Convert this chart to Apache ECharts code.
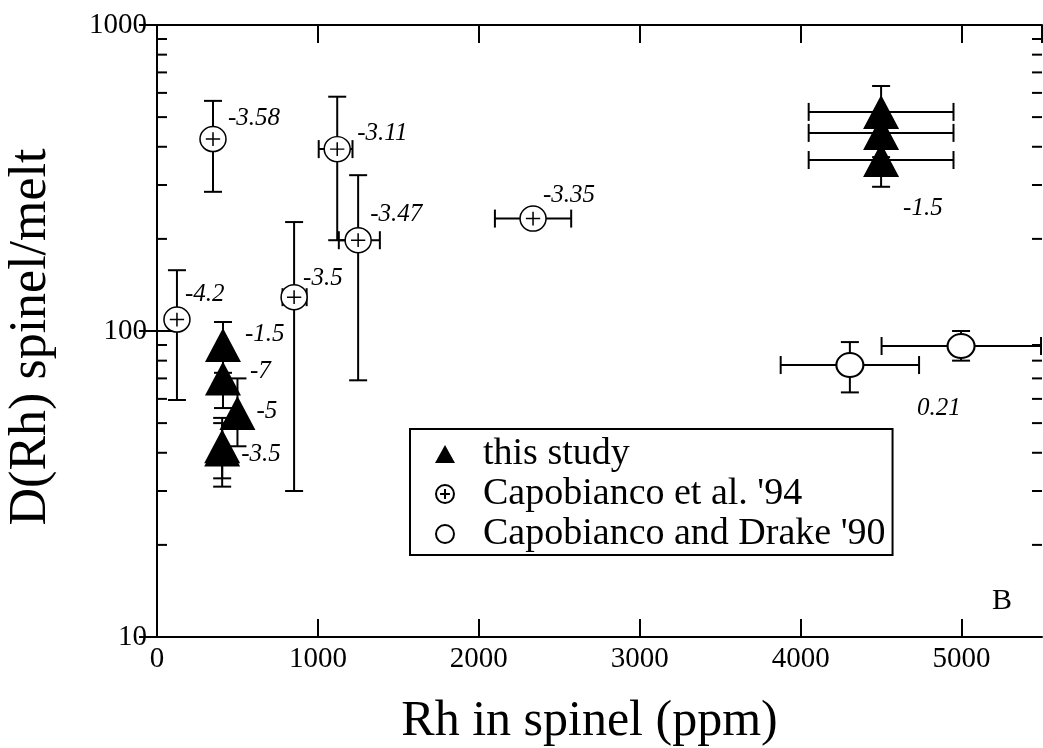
<!DOCTYPE html>
<html>
<head>
<meta charset="utf-8">
<script src="https://cdn.jsdelivr.net/npm/echarts@6/dist/echarts.min.js"></script>
<style>
  html, body { margin: 0; padding: 0; background: #fff; }
  #chart { width: 1043px; height: 748px; }
</style>
</head>
<body>
<div id="chart"></div>
<script>
// ---- data: Rh in spinel (ppm) vs D(Rh) spinel/melt ----
// this study
const studyX    = [410, 410, 500, 405, 405, 4500, 4500, 4500];
const studyD    = [90, 70, 54, 42, 41, 520, 444, 362];
const studyDLo  = [73, 56, 42, 31, 33, 410, 370, 296];
const studyDHi  = [107, 84, 70, 52, 50, 632, 520, 430];
const studyXLo  = [null, null, null, null, null, 4050, 4050, 4050];
const studyXHi  = [null, null, null, null, null, 4950, 4950, 4950];
const studyNote = ['-1.5', '-7', '-5', '-3.5', '', '', '', '-1.5'];

// Capobianco et al. '94
const c94X    = [124, 348, 1120, 1250, 852, 2337];
const c94D    = [109, 424, 393, 198, 129, 233];
const c94DLo  = [59.5, 285, 198, 69, 30, null];
const c94DHi  = [158, 565, 583, 323, 227, null];
const c94XLo  = [null, null, 1005, 1130, 780, 2100];
const c94XHi  = [null, null, 1215, 1385, 930, 2574];
const c94Note = ['-4.2', '-3.58', '-3.11', '-3.47', '-3.5', '-3.35'];

// Capobianco and Drake '90
const cd90X    = [4306, 4997];
const cd90D    = [77.4, 89.3];
const cd90DLo  = [63, 80];
const cd90DHi  = [92, 100];
const cd90XLo  = [3876, 4503];
const cd90XHi  = [4736, 5494];
const cd90Note = ['', '0.21'];

// axes
const xMin = 0, xMax = 5500, xStep = 1000;
const yMin = 10, yMax = 1000;
const yMinorTicks = [20, 30, 40, 50, 60, 70, 80, 90, 200, 300, 400, 500, 600, 700, 800, 900];

const seriesNames = ['this study', "Capobianco et al. '94", "Capobianco and Drake '90"];

// ---- styling ----
const SERIF = "'Liberation Serif', 'Times New Roman', serif";
const studyNoteOffset = [[22, -11], [27, -7], [19, -1], [19, 8], [0, 0], [0, 0], [0, 0], [22, 48]];
const c94NoteOffset   = [[8, -25], [15, -21], [20, -16], [12, -26], [9, -19], [10, -23]];
const cd90NoteOffset  = [[0, 0], [-44, 62]];
const plusCircle = 'path://M0,-10A10,10,0,1,1,0,10A10,10,0,1,1,0,-10ZM-5.5,0L5.5,0M0,-5.5L0,5.5';

function pointData(xs, ys, notes, offsets) {
  return xs.map((x, i) => ({
    value: [x, ys[i]],
    label: notes[i] ? {
      show: true,
      formatter: notes[i],
      position: 'inside',
      align: 'left',
      verticalAlign: 'middle',
      offset: offsets[i],
      color: '#000',
      fontFamily: SERIF,
      fontStyle: 'italic',
      fontSize: 25
    } : { show: false }
  }));
}

function errorSeries(xs, ys, xlo, xhi, ylo, yhi) {
  const cap = 9;
  return {
    type: 'custom',
    coordinateSystem: 'cartesian2d',
    silent: true,
    clip: true,
    z: 2,
    data: xs.map((x, i) => [x, ys[i]]),
    encode: { x: 0, y: 1 },
    renderItem: function (params, api) {
      const i = params.dataIndex;
      const x = api.value(0), y = api.value(1);
      const c = api.coord([x, y]);
      const st = { stroke: '#000', lineWidth: 2 };
      const kids = [];
      if (ylo[i] != null && yhi[i] != null) {
        const a = api.coord([x, ylo[i]]), b = api.coord([x, yhi[i]]);
        kids.push({ type: 'line', shape: { x1: c[0], y1: a[1], x2: c[0], y2: b[1] }, style: st });
        kids.push({ type: 'line', shape: { x1: c[0] - cap, y1: a[1], x2: c[0] + cap, y2: a[1] }, style: st });
        kids.push({ type: 'line', shape: { x1: c[0] - cap, y1: b[1], x2: c[0] + cap, y2: b[1] }, style: st });
      }
      if (xlo[i] != null && xhi[i] != null) {
        const a = api.coord([xlo[i], y]), b = api.coord([xhi[i], y]);
        kids.push({ type: 'line', shape: { x1: a[0], y1: c[1], x2: b[0], y2: c[1] }, style: st });
        kids.push({ type: 'line', shape: { x1: a[0], y1: c[1] - cap, x2: a[0], y2: c[1] + cap }, style: st });
        kids.push({ type: 'line', shape: { x1: b[0], y1: c[1] - cap, x2: b[0], y2: c[1] + cap }, style: st });
      }
      return { type: 'group', children: kids };
    }
  };
}

// log-spaced minor ticks on both vertical frame sides
const minorTickSeries = {
  type: 'custom',
  coordinateSystem: 'cartesian2d',
  silent: true,
  z: 1,
  data: yMinorTicks.map(v => [xMin, v]),
  encode: { x: 0, y: 1 },
  renderItem: function (params, api) {
    const cs = params.coordSys;
    const p = api.coord([xMin, api.value(1)]);
    const st = { stroke: '#000', lineWidth: 2 };
    return {
      type: 'group',
      children: [
        { type: 'line', shape: { x1: cs.x, y1: p[1], x2: cs.x + 10, y2: p[1] }, style: st },
        { type: 'line', shape: { x1: cs.x + cs.width, y1: p[1], x2: cs.x + cs.width - 10, y2: p[1] }, style: st }
      ]
    };
  }
};

const axisLineStyle = { show: true, lineStyle: { color: '#000', width: 2 } };
const tickStyle = { show: true, inside: true, length: 18, lineStyle: { color: '#000', width: 2 } };

const option = {
  animation: false,
  backgroundColor: '#fff',
  grid: { left: 157, right: 1, top: 25, bottom: 111, containLabel: false, outerBoundsMode: 'none' },
  xAxis: [
    {
      type: 'value', position: 'bottom', min: xMin, max: xMax, interval: xStep,
      axisLine: axisLineStyle, axisTick: tickStyle, splitLine: { show: false },
      axisLabel: { color: '#000', fontFamily: SERIF, fontSize: 29, margin: 8, showMaxLabel: false,
                   formatter: v => (v % xStep === 0 ? String(v) : '') },
      name: 'Rh in spinel (ppm)', nameLocation: 'middle', nameGap: 60,
      nameTextStyle: { color: '#000', fontFamily: SERIF, fontSize: 50, padding: [0, 20, 0, 0] }
    },
    {
      type: 'value', position: 'top', min: xMin, max: xMax, interval: xStep,
      axisLine: axisLineStyle, axisTick: tickStyle, splitLine: { show: false },
      axisLabel: { show: false }
    }
  ],
  yAxis: [
    {
      type: 'log', logBase: 10, position: 'left', min: yMin, max: yMax,
      axisLine: axisLineStyle, axisTick: tickStyle, splitLine: { show: false },
      axisLabel: { color: '#000', fontFamily: SERIF, fontSize: 29, margin: 10,
                   formatter: v => String(Math.round(v)) },
      name: 'D(Rh) spinel/melt', nameLocation: 'middle', nameGap: 100,
      nameTextStyle: { color: '#000', fontFamily: SERIF, fontSize: 52, padding: [0, 12, 0, 0] }
    },
    {
      type: 'log', logBase: 10, position: 'right', min: yMin, max: yMax,
      axisLine: axisLineStyle, axisTick: tickStyle, splitLine: { show: false },
      axisLabel: { show: false }
    }
  ],
  legend: {
    orient: 'vertical', left: 410, top: 429,
    backgroundColor: '#fff', borderColor: '#000', borderWidth: 2, borderRadius: 0,
    padding: [6, 7, 2, 25],
    itemWidth: 20, itemHeight: 18, itemGap: 2,
    selectedMode: false,
    textStyle: { color: '#000', fontFamily: SERIF, fontSize: 38, lineHeight: 37, padding: [0, 0, 0, 23] },
    data: [
      { name: seriesNames[0], icon: 'triangle' },
      { name: seriesNames[1], icon: plusCircle },
      { name: seriesNames[2], icon: 'circle' }
    ]
  },
  graphic: [
    { type: 'text', left: 992, top: 586, silent: true,
      style: { text: 'B', fill: '#000', font: '30px ' + SERIF } }
  ],
  series: [
    minorTickSeries,
    errorSeries(studyX, studyD, studyXLo, studyXHi, studyDLo, studyDHi),
    errorSeries(c94X, c94D, c94XLo, c94XHi, c94DLo, c94DHi),
    errorSeries(cd90X, cd90D, cd90XLo, cd90XHi, cd90DLo, cd90DHi),
    {
      name: seriesNames[0], type: 'scatter', z: 4,
      symbol: 'triangle', symbolSize: [36, 34],
      itemStyle: { color: '#000', borderColor: '#000', borderWidth: 0, opacity: 1 },
      emphasis: { disabled: true },
      data: pointData(studyX, studyD, studyNote, studyNoteOffset)
    },
    {
      name: seriesNames[1], type: 'scatter', z: 4,
      symbol: plusCircle, symbolSize: [26, 25],
      itemStyle: { color: '#fff', borderColor: '#000', borderWidth: 1.5, opacity: 1 },
      emphasis: { disabled: true },
      data: pointData(c94X, c94D, c94Note, c94NoteOffset)
    },
    {
      name: seriesNames[2], type: 'scatter', z: 4,
      symbol: 'circle', symbolSize: [27, 24],
      itemStyle: { color: '#fff', borderColor: '#000', borderWidth: 2, opacity: 1 },
      emphasis: { disabled: true },
      data: pointData(cd90X, cd90D, cd90Note, cd90NoteOffset)
    }
  ]
};

const chart = echarts.init(document.getElementById('chart'));
chart.setOption(option);
</script>
</body>
</html>
